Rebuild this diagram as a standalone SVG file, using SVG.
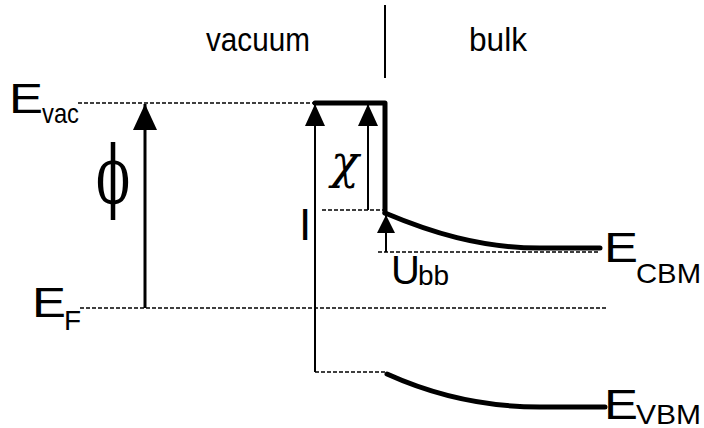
<svg xmlns="http://www.w3.org/2000/svg" width="704" height="428" viewBox="0 0 704 428">
<style>
.t{font-family:"Liberation Sans",Arial,sans-serif;fill:#000}
.big{font-size:43px}
.sub{font-size:28px}
.lab{font-size:34px}
.dot{stroke:#000;stroke-width:1.5;stroke-dasharray:4 2;fill:none}
.thin{stroke:#000;stroke-width:2;fill:none}
.thick{stroke:#000;stroke-width:5;fill:none;stroke-linejoin:round;stroke-linecap:round}
</style>
<defs>
<marker id="ah" markerUnits="userSpaceOnUse" markerWidth="28" markerHeight="28" refX="26" refY="12" orient="auto" viewBox="0 0 28 24">
<path d="M0,0 L26,12 L0,24 Z" fill="#000"/>
</marker>
<marker id="ahs" markerUnits="userSpaceOnUse" markerWidth="24" markerHeight="22" refX="22" refY="10" orient="auto" viewBox="0 0 24 20">
<path d="M0,0 L22,10 L0,20 Z" fill="#000"/>
</marker>
<marker id="ahx" markerUnits="userSpaceOnUse" markerWidth="20" markerHeight="20" refX="18" refY="9" orient="auto" viewBox="0 0 20 18">
<path d="M0,0 L18,9 L0,18 Z" fill="#000"/>
</marker>
</defs>
<g id="regions">
<text class="t lab" x="206" y="51" textLength="104" lengthAdjust="spacingAndGlyphs">vacuum</text>
<text class="t lab" x="469" y="51" textLength="58" lengthAdjust="spacingAndGlyphs">bulk</text>
<line class="thin" x1="385" y1="5" x2="385" y2="78"/>
</g>
<g id="evac">
<text class="t big" x="9" y="113" textLength="34" lengthAdjust="spacingAndGlyphs">E</text>
<text class="t sub" x="42" y="123" textLength="37" lengthAdjust="spacingAndGlyphs">vac</text>
</g>
<g id="ef">
<text class="t big" x="32" y="317" textLength="34" lengthAdjust="spacingAndGlyphs">E</text>
<text class="t sub" x="64" y="330">F</text>
</g>
<g id="ecbm">
<text class="t big" x="604" y="262" textLength="34" lengthAdjust="spacingAndGlyphs">E</text>
<text class="t sub" x="636" y="283" textLength="65" lengthAdjust="spacingAndGlyphs">CBM</text>
</g>
<g id="evbm">
<text class="t big" x="604" y="419" textLength="34" lengthAdjust="spacingAndGlyphs">E</text>
<text class="t sub" x="636" y="424" textLength="65" lengthAdjust="spacingAndGlyphs">VBM</text>
</g>
<g id="phi-label">
<text transform="translate(96,203) scale(1,1.6)" x="0" y="0" style="font-family:'DejaVu Serif',serif;font-size:50px">ϕ</text>
</g>
<g id="I-label">
<text class="t" x="299" y="240" style="font-size:44px">I</text>
</g>
<g id="chi-label">
<text x="331" y="178" style="font-family:'DejaVu Serif',serif;font-size:46px;font-style:italic">χ</text>
</g>
<g id="ubb-label">
<text class="t" x="391" y="284" style="font-size:40px">U</text>
<text class="t sub" x="418" y="285">bb</text>
</g>
<g id="bands">
<path class="thick" d="M315,103 L385,103 L385,213"/>
<path class="thick" d="M385,213 C430,232 480,248 540,248 L600,248"/>
<path class="thick" d="M387,374 C440,398 490,407 540,407 L605,407"/>
</g>
<g id="connectors">
<line class="dot" x1="78" y1="103" x2="313" y2="103"/>
<line class="dot" x1="80" y1="308" x2="607" y2="308"/>
<line class="dot" x1="322" y1="210" x2="385" y2="210"/>
<line class="dot" x1="378" y1="252" x2="600" y2="252"/>
<line class="dot" x1="315" y1="372" x2="385" y2="372"/>
<line stroke="#000" stroke-width="3" x1="145" y1="308" x2="145" y2="104" marker-end="url(#ah)"/>
<line class="thin" x1="315" y1="372" x2="315" y2="104" marker-end="url(#ahs)"/>
<line class="thin" x1="368" y1="210" x2="368" y2="104" marker-end="url(#ahs)"/>
<line class="thin" x1="386" y1="252" x2="386" y2="215" marker-end="url(#ahx)"/>
</g>
</svg>
